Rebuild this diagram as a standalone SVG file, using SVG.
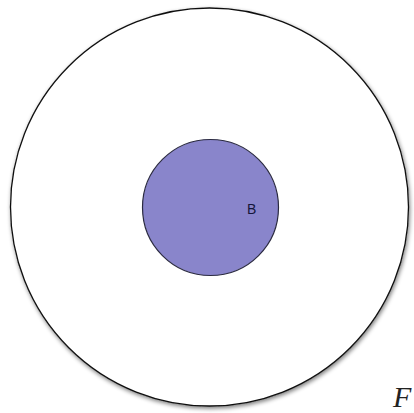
<svg xmlns="http://www.w3.org/2000/svg" width="414" height="413" viewBox="0 0 414 413">
<style>
.lbl{font-family:"Liberation Sans",Arial,sans-serif;font-size:14px;fill:#15153a}
.f{font-family:"Liberation Serif","Times New Roman",serif;font-style:italic;font-size:30px;fill:#222}
</style>
<defs>
<filter id="sh" x="-10%" y="-10%" width="120%" height="120%">
<feGaussianBlur in="SourceAlpha" stdDeviation="2"/>
<feOffset dx="1" dy="2" result="b"/>
<feComponentTransfer><feFuncA type="linear" slope="0.5"/></feComponentTransfer>
<feMerge><feMergeNode/><feMergeNode in="SourceGraphic"/></feMerge>
</filter>
</defs>
<rect width="414" height="413" fill="#fff"/>
<g id="outer">
<circle cx="209.5" cy="207" r="199" fill="#fff" stroke="#111" stroke-width="1.3" filter="url(#sh)"/>
</g>
<g id="nodeB">
<circle cx="210.5" cy="207.5" r="68" fill="#8985cb" stroke="#2a2a40" stroke-width="1.2"/>
<text class="lbl" x="247" y="214">B</text>
</g>
<g id="connectors"></g>
<text class="f" x="393" y="407">F</text>
</svg>
